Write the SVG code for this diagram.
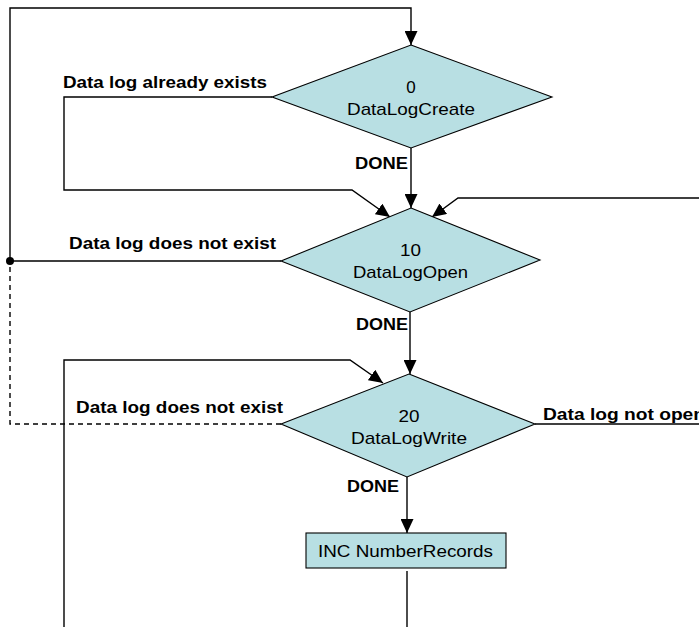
<svg xmlns="http://www.w3.org/2000/svg" width="699" height="627" viewBox="0 0 699 627">
<defs>
<style>
.shape{fill:#b8dfe3;stroke:#000;stroke-width:1.1}
.line{fill:none;stroke:#000;stroke-width:1.4}
.dash{fill:none;stroke:#000;stroke-width:1.4;stroke-dasharray:5 4}
.lbl{font-family:"Liberation Sans",Arial,sans-serif;font-size:17px;font-weight:bold;fill:#000}
.node{font-family:"Liberation Sans",Arial,sans-serif;font-size:17px;fill:#000;text-anchor:middle}
</style>
<marker id="arr" viewBox="0 0 14 13" refX="14" refY="6.5" markerWidth="14" markerHeight="13" markerUnits="userSpaceOnUse" orient="auto">
<path d="M0,0 L14,6.5 L0,13 z" fill="#000"/>
</marker>
</defs>
<rect width="699" height="627" fill="#fff"/>
<g id="connectors">
<path class="line" d="M281,261 H10 V8 H411 V45" marker-end="url(#arr)"/>
<circle cx="10" cy="261" r="4" fill="#000"/>
<path class="dash" d="M281,424 H10 V265"/>
<path class="line" d="M272,97 H64 V190 H352 L390,217" marker-end="url(#arr)"/>
<path class="line" d="M411,148 V208" marker-end="url(#arr)"/>
<path class="line" d="M699,198 H458 L432,217" marker-end="url(#arr)"/>
<path class="line" d="M410,312 V374" marker-end="url(#arr)"/>
<path class="line" d="M64,627 V360 H350 L383,383" marker-end="url(#arr)"/>
<path class="line" d="M535,424 H699"/>
<path class="line" d="M407,477 V533" marker-end="url(#arr)"/>
<path class="line" d="M407,571 V627"/>
<text class="lbl" x="63" y="88" textLength="204" lengthAdjust="spacingAndGlyphs">Data log already exists</text>
<text class="lbl" x="355" y="169" textLength="53" lengthAdjust="spacingAndGlyphs">DONE</text>
<text class="lbl" x="69" y="249" textLength="207" lengthAdjust="spacingAndGlyphs">Data log does not exist</text>
<text class="lbl" x="356" y="330" textLength="52" lengthAdjust="spacingAndGlyphs">DONE</text>
<text class="lbl" x="76" y="413" textLength="207" lengthAdjust="spacingAndGlyphs">Data log does not exist</text>
<text class="lbl" x="543" y="420" textLength="162" lengthAdjust="spacingAndGlyphs">Data log not open</text>
<text class="lbl" x="347" y="492" textLength="52" lengthAdjust="spacingAndGlyphs">DONE</text>
</g>
<g id="node0">
<polygon class="shape" points="411,45 552,97 411,148 272,97"/>
<text class="node" x="411" y="93">0</text>
<text class="node" x="411" y="115" textLength="128" lengthAdjust="spacingAndGlyphs">DataLogCreate</text>
</g>
<g id="node10">
<polygon class="shape" points="411,208 540,260 410,312 281,261"/>
<text class="node" x="410.5" y="256" textLength="21" lengthAdjust="spacingAndGlyphs">10</text>
<text class="node" x="410.5" y="278" textLength="115" lengthAdjust="spacingAndGlyphs">DataLogOpen</text>
</g>
<g id="node20">
<polygon class="shape" points="409,374 535,424 407,477 281,424"/>
<text class="node" x="409" y="422" textLength="21" lengthAdjust="spacingAndGlyphs">20</text>
<text class="node" x="409" y="444" textLength="116" lengthAdjust="spacingAndGlyphs">DataLogWrite</text>
</g>
<g id="inc">
<rect class="shape" x="306" y="533" width="200" height="35"/>
<text class="node" x="405.5" y="557" textLength="175" lengthAdjust="spacingAndGlyphs">INC NumberRecords</text>
</g>
</svg>
